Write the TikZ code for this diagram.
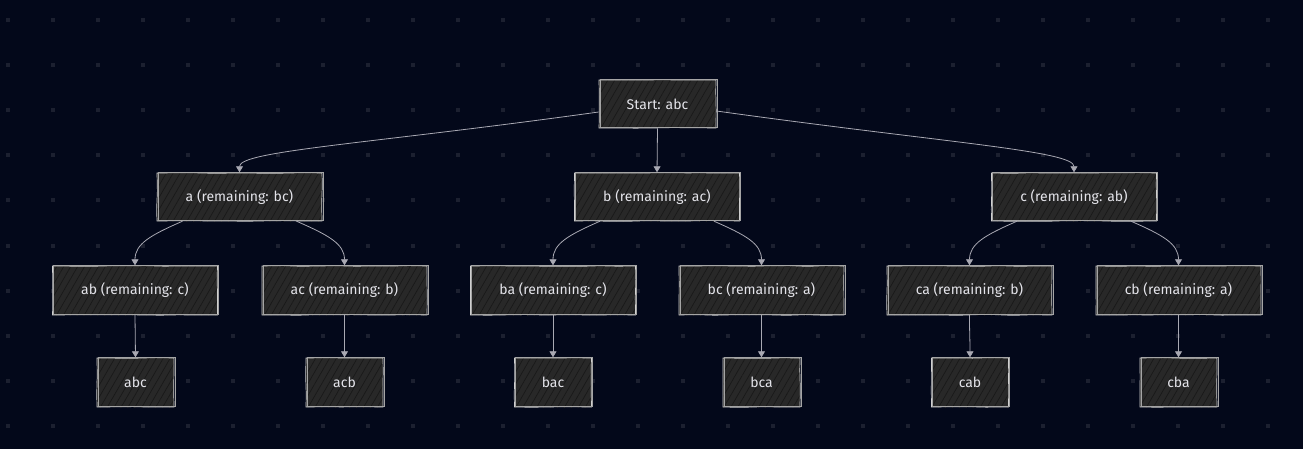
\documentclass[tikz,border=0pt]{standalone}
\usepackage{fontspec}
\newfontfamily\boxfont{Fira Sans}
\usetikzlibrary{patterns.meta,decorations.pathmorphing,arrows.meta,calc}
\definecolor{bgc}{HTML}{03081A}
\definecolor{dotc}{HTML}{1C2030}
\definecolor{boxfill}{HTML}{282828}
\definecolor{hatch}{HTML}{191919}
\definecolor{bordc}{HTML}{CFCFCF}
\definecolor{txtc}{HTML}{E4E4EA}
\definecolor{edgec}{HTML}{A9A9B3}
\begin{document}
\pgfmathsetseed{7}
\begin{tikzpicture}[x=1pt,y=-1pt,
  box/.style={rectangle, inner sep=0pt, text=txtc,
    font={\boxfont\fontsize{14}{16}\selectfont},
    preaction={fill=boxfill},
    pattern={Lines[angle=60,distance=6pt,line width=0.7pt]}, pattern color=hatch,
    postaction={draw=bordc, line width=0.7pt, decorate,
      decoration={random steps, segment length=18pt, amplitude=0.4pt}},
    postaction={draw=bordc!75!boxfill, line width=0.5pt,
      transform canvas={xshift=0.8pt,yshift=0.7pt}}},
  wide/.style={box, minimum width=165pt, minimum height=48pt},
  leaf/.style={box, minimum width=77pt, minimum height=49pt},
  link/.style={draw=edgec, line width=0.8pt, -{Triangle[length=6pt,width=7pt]}, shorten >=0.5pt}
]
\fill[bgc] (0,0) rectangle (1303,449);
\useasboundingbox (0,0) rectangle (1303,449);
\foreach \i in {0,...,28} {
  \foreach \j in {0,...,9} {
    \fill[dotc] ({7.5+45*\i-2},{20.5+45*\j-2}) rectangle +(4,4);
  }
}
% nodes
\node[box, minimum width=117pt, minimum height=48pt] (start) at (657.5,104) {Start: abc};
\node[wide] (a) at (239.5,197) {a (remaining: bc)};
\node[wide] (b) at (657,197) {b (remaining: ac)};
\node[wide] (c) at (1074,197) {c (remaining: ab)};
\node[wide, minimum height=49pt] (ab) at (135,290.5) {ab (remaining: c)};
\node[wide, minimum height=49pt] (ac) at (344.5,290.5) {ac (remaining: b)};
\node[wide, minimum height=49pt] (ba) at (553,290.5) {ba (remaining: c)};
\node[wide, minimum height=49pt] (bc) at (761.5,290.5) {bc (remaining: a)};
\node[wide, minimum height=49pt] (ca) at (969.5,290.5) {ca (remaining: b)};
\node[wide, minimum height=49pt] (cb) at (1178.5,290.5) {cb (remaining: a)};
\node[leaf] (abc) at (135.5,382.5) {abc};
\node[leaf] (acb) at (344.5,382.5) {acb};
\node[leaf] (bac) at (553,382.5) {bac};
\node[leaf] (bca) at (761.5,382.5) {bca};
\node[leaf] (cab) at (970,382.5) {cab};
\node[leaf] (cba) at (1178.5,382.5) {cba};
% edges level 0 -> 1
\draw[link] ($(start.west)+(0,8)$) .. controls +(-230,32) and +(0,-22) .. (a.north);
\draw[link] (start.south) -- (b.north);
\draw[link] ($(start.east)+(0,7)$) .. controls +(230,32) and +(0,-22) .. (c.north);
% edges level 1 -> 2
\draw[link] ($(a.south)+(-57,0)$) .. controls +(-32,14) and +(0,-22) .. (ab.north);
\draw[link] ($(a.south)+(57,0)$) .. controls +(32,14) and +(0,-22) .. (ac.north);
\draw[link] ($(b.south)+(-57,0)$) .. controls +(-32,14) and +(0,-22) .. (ba.north);
\draw[link] ($(b.south)+(57,0)$) .. controls +(32,14) and +(0,-22) .. (bc.north);
\draw[link] ($(c.south)+(-57,0)$) .. controls +(-32,14) and +(0,-22) .. (ca.north);
\draw[link] ($(c.south)+(57,0)$) .. controls +(32,14) and +(0,-22) .. (cb.north);
% edges level 2 -> 3
\draw[link] (ab.south) -- (abc.north);
\draw[link] (ac.south) -- (acb.north);
\draw[link] (ba.south) -- (bac.north);
\draw[link] (bc.south) -- (bca.north);
\draw[link] (ca.south) .. controls +(0,20) and +(0,-20) .. (cab.north);
\draw[link] (cb.south) -- (cba.north);
\end{tikzpicture}
\end{document}
